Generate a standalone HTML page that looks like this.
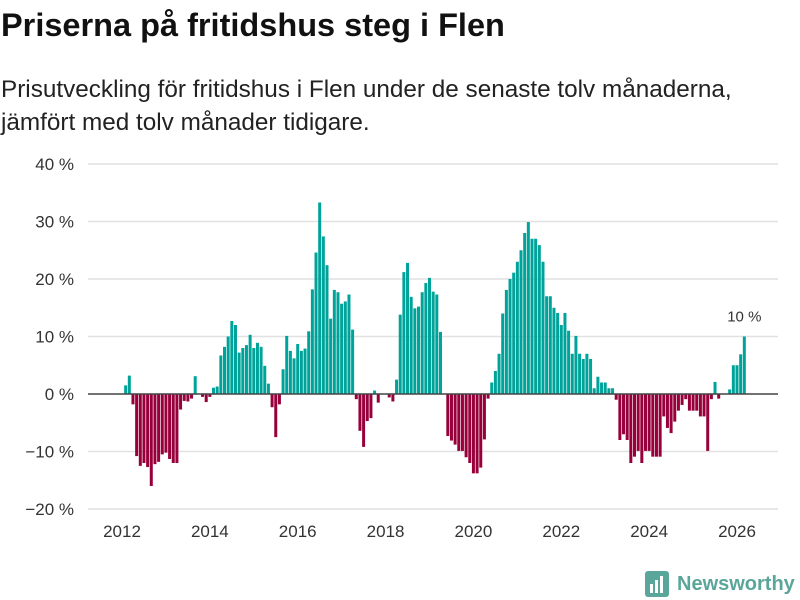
<!DOCTYPE html>
<html><head><meta charset="utf-8"><style>
body{margin:0;width:800px;height:600px;background:#fff;font-family:"Liberation Sans",sans-serif;overflow:hidden;position:relative}
#title{position:absolute;left:1px;top:7px;font-size:32.5px;font-weight:bold;color:#111;margin:0;white-space:nowrap}
#sub{position:absolute;left:1px;top:73px;font-size:24.3px;line-height:33px;color:#222;margin:0;white-space:nowrap}
svg{position:absolute;left:0;top:0}
</style></head><body>
<h1 id="title">Priserna på fritidshus steg i Flen</h1>
<p id="sub">Prisutveckling för fritidshus i Flen under de senaste tolv månaderna,<br>jämfört med tolv månader tidigare.</p>
<svg id="chart" width="800" height="600"></svg>
<script>
const startYear = 2012;
const values = [1.5,3.2,-1.8,-10.8,-12.5,-12,-12.7,-16,-12.2,-11.8,-10.5,-10.2,-11.3,-12,-12,-2.7,-1.2,-1.3,-0.8,3.1,0,-0.5,-1.4,-0.5,1.1,1.3,6.7,8.2,10,12.7,12,7.2,8,8.5,10.3,8,8.9,8.2,4.9,1.8,-2.3,-7.5,-1.8,
4.3,10.1,7.5,6.2,8.7,7.5,7.9,10.9,18.2,24.6,33.3,27.4,22.4,13.1,18.1,17.7,15.7,16.1,17.3,11.2,-0.9,-6.4,-9.2,-4.7,-4.2,0.6,-1.5,0,0,-0.6,-1.3,2.5,13.8,21.2,22.8,16.9,14.9,15.2,17.7,19.3,20.2,17.8,17.3,10.8,0,
-7.3,-8.1,-8.8,-9.9,-9.9,-11,-12,-13.8,-13.8,-12.8,-7.9,-0.8,2,4,7,14,18.1,20,21.1,23,25,28,29.9,27,27,25.9,23,17,17,15,14.1,12,14.1,11,7,10.1,7,6.1,7,6.1,1,3,2,2,1,1,-1,
-8,-7,-8,-12,-10.9,-9.9,-12,-9.9,-9.9,-10.9,-10.9,-10.9,-3.9,-5.9,-6.8,-4.8,-2.9,-1.9,-0.9,-2.9,-2.9,-2.9,-3.9,-3.9,-9.9,-0.9,2.1,-0.8,0,0,0.8,5,5,6.9,10];
const yTicks = [-20,-10,0,10,20,30,40];
const xTicks = [2012,2014,2016,2018,2020,2022,2024,2026];
const lastLabel = "10 %";

const NS="http://www.w3.org/2000/svg";
const svg=document.getElementById('chart');
function x(t){return 122+(t-2012)*(737-122)/14;}
function y(v){return 394-v*5.75;}
function el(tag,attrs,parent){const e=document.createElementNS(NS,tag);for(const k in attrs)e.setAttribute(k,attrs[k]);(parent||svg).appendChild(e);return e;}
yTicks.forEach(t=>{
  if(t!==0){const g=el('line',{x1:88,x2:778,y1:y(t),y2:y(t),stroke:'#e1e1e1','stroke-width':1.5});
  
  }
  const tx=el('text',{x:74,y:y(t)+6,'text-anchor':'end','font-size':17,fill:'#333','font-family':'Liberation Sans, sans-serif'});
  tx.textContent=(t<0?'\u2212'+(-t):t)+' %';
  
  
});
values.forEach((v,i)=>{
  const cx=x(startYear+(i+1)/12);
  const r=el('rect',{x:cx-1.5,width:3,y:Math.min(y(v),y(0)),height:Math.abs(y(v)-y(0)),fill:v>=0?'#00a39a':'#97003b'});
  
  
});
const zl=el('line',{x1:88,x2:778,y1:y(0),y2:y(0),stroke:'#444','stroke-width':1.5});


xTicks.forEach(t=>{
  const tx=el('text',{x:x(t),y:537,'text-anchor':'middle','font-size':17,fill:'#333','font-family':'Liberation Sans, sans-serif'});
  tx.textContent=t;
  
  
});
const li=values.length-1;
const al=el('text',{x:x(startYear+(li+1)/12),y:y(values[li])-15,'text-anchor':'middle','font-size':15,fill:'#333','font-family':'Liberation Sans, sans-serif'});
al.textContent=lastLabel;


const lg=el('g',{});


el('rect',{x:645,y:571,width:24,height:26,rx:3,fill:'#5aa69a'},lg);
el('rect',{x:650,y:584,width:3,height:9,fill:'#fff'},lg);
el('rect',{x:655,y:580,width:3,height:13,fill:'#fff'},lg);
el('rect',{x:660,y:576,width:3,height:17,fill:'#fff'},lg);
const lt=el('text',{x:677,y:590,'font-size':20,'font-weight':'bold',fill:'#5aa69a','font-family':'Liberation Sans, sans-serif'},lg);
lt.textContent='Newsworthy';
</script>
</body></html>
